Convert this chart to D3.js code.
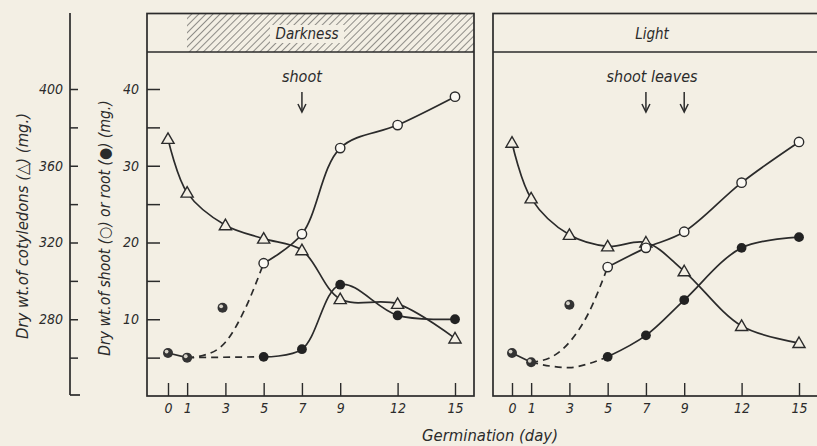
<!DOCTYPE html>
<html>
<head>
<meta charset="utf-8">
<script src="https://cdn.jsdelivr.net/npm/d3@7"></script>
<style>
  body { margin: 0; background: #f3efe4; }
  svg text { font-family: "DejaVu Sans Condensed", "DejaVu Sans", sans-serif; font-style: italic; fill: #2b2b2b; }
</style>
</head>
<body>
<div id="canvas"></div>
<script>
"use strict"

/* data */
let days = [0, 1, 3, 5, 7, 9, 12, 15];
let laterDays = [5, 7, 9, 12, 15];
let seedDays = [0, 1];

// darkness panel
let darkCotyledon = [374, 346, 329, 322, 316, 290.5, 288, 270];
let darkShoot = [17.3, 21.1, 32.3, 35.3, 39.0];
let darkRoot = [5.1, 6.1, 14.5, 10.5, 10.0];
let darkSeed = [5.6, 5.0];
let darkLone = [2.85, 11.5];
let darkShootDash = [[1, 5.0], [2, 5.4], [3, 7.0], [4, 11.2], [5, 17.3]];
let darkRootDash = [[1, 5.0], [5, 5.1]];

// light panel
let lightCotyledon = [372, 343, 324, 318, 320, 305, 276.5, 267.6];
let lightShoot = [16.8, 19.3, 21.4, 27.8, 33.1];
let lightRoot = [5.1, 7.9, 12.5, 19.3, 20.7];
let lightSeed = [5.6, 4.4];
let lightLone = [3.0, 11.9];
let lightShootDash = [[1, 4.4], [2, 5.0], [3, 7.0], [4, 10.8], [5, 16.8]];
let lightRootDash = [[1, 4.4], [2, 3.9], [3, 3.7], [4, 4.2], [5, 5.1]];

let shootTicks = [5, 10, 15, 20, 25, 30, 35, 40];
let cotTicks = [260, 280, 300, 320, 340, 360, 380, 400];

let ink = "#2b2b2b";
let bg = "#f3efe4";

let drawing = d3.select("#canvas")
    .append("svg")
    .attr("width", 817)
    .attr("height", 446);

/* scales */
let y = d3.scaleLinear().domain([0, 40]).range([396, 89]);
let yCot = d3.scaleLinear().domain([240, 400]).range([396, 89]);
let xDark = d3.scaleLinear().domain([0, 15]).range([168, 455]);
let xLight = d3.scaleLinear().domain([0, 15]).range([512, 799]);

/* hatching for the darkness header */
let defs = drawing.append("defs");
let hatch = defs.append("pattern")
    .attr("id", "hatch")
    .attr("patternUnits", "userSpaceOnUse")
    .attr("width", 5)
    .attr("height", 5)
    .attr("patternTransform", "rotate(45)");
hatch.append("line")
    .attr("x1", 0).attr("y1", 0)
    .attr("x2", 0).attr("y2", 5)
    .attr("stroke", "#3a3a3a")
    .attr("stroke-width", 1.1);

/* outer cotyledon axis */
drawing.append("line")
    .attr("x1", 70).attr("y1", 13)
    .attr("x2", 70).attr("y2", 395)
    .attr("stroke", ink).attr("stroke-width", 1.7);
drawing.append("line")
    .attr("x1", 70).attr("y1", 395)
    .attr("x2", 80).attr("y2", 395)
    .attr("stroke", ink).attr("stroke-width", 1.7);

let cotAxis = drawing.append("g")
    .attr("transform", "translate(70,0)")
    .call(d3.axisLeft(yCot).tickValues(cotTicks).tickSize(-8).tickPadding(7)
        .tickFormat(d => d % 40 == 0 ? d : ""));
cotAxis.select(".domain").remove();
cotAxis.selectAll("line").attr("stroke", ink).attr("stroke-width", 1.5);
cotAxis.selectAll("text").attr("font-size", 14).attr("fill", ink)
    .style("font-family", "\"DejaVu Sans Condensed\", sans-serif").style("font-style", "italic");

/* panel frames */
function panelFrame(x0, x1) {
    drawing.append("rect")
        .attr("x", x0).attr("y", 13.5)
        .attr("width", x1 - x0).attr("height", 396 - 13.5)
        .attr("fill", "none")
        .attr("stroke", ink).attr("stroke-width", 1.7);
    drawing.append("line")
        .attr("x1", x0).attr("y1", 52)
        .attr("x2", x1).attr("y2", 52)
        .attr("stroke", ink).attr("stroke-width", 1.5);
}

drawing.append("rect")
    .attr("x", 187).attr("y", 14)
    .attr("width", 287).attr("height", 38)
    .attr("fill", "url(#hatch)");
drawing.append("rect")
    .attr("x", 270).attr("y", 25)
    .attr("width", 74).attr("height", 18)
    .attr("fill", bg);
panelFrame(147, 474);
panelFrame(493, 840);

drawing.append("text")
    .attr("x", 307).attr("y", 39)
    .attr("text-anchor", "middle")
    .attr("font-size", 15)
    .text("Darkness");
drawing.append("text")
    .attr("x", 652).attr("y", 39)
    .attr("text-anchor", "middle")
    .attr("font-size", 15)
    .text("Light");

/* inner shoot/root axis */
let shootAxis = drawing.append("g")
    .attr("transform", "translate(147,0)")
    .call(d3.axisLeft(y).tickValues(shootTicks).tickSize(-13).tickPadding(8)
        .tickFormat(d => d % 10 == 0 ? d : ""));
shootAxis.select(".domain").remove();
shootAxis.selectAll("line").attr("stroke", ink).attr("stroke-width", 1.5);
shootAxis.selectAll("text").attr("font-size", 14).attr("fill", ink)
    .style("font-family", "\"DejaVu Sans Condensed\", sans-serif").style("font-style", "italic");

/* x axes */
function dayAxis(x) {
    let g = drawing.append("g")
        .attr("transform", "translate(0,396)")
        .call(d3.axisBottom(x).tickValues(days).tickSize(-13).tickPadding(7));
    g.select(".domain").remove();
    g.selectAll("line").attr("stroke", ink).attr("stroke-width", 1.4);
    g.selectAll("text").attr("font-size", 14).attr("fill", ink)
        .style("font-family", "\"DejaVu Sans Condensed\", sans-serif").style("font-style", "italic");
}
dayAxis(xDark);
dayAxis(xLight);

/* axis titles */
drawing.append("text")
    .attr("transform", "translate(28,226) rotate(-90)")
    .attr("text-anchor", "middle")
    .attr("font-size", 16.5)
    .text("Dry wt.of cotyledons (\u25B3) (mg.)");
drawing.append("text")
    .attr("transform", "translate(110,228) rotate(-90)")
    .attr("text-anchor", "middle")
    .attr("font-size", 15.5)
    .text("Dry wt.of shoot (\u25CB) or root (\u25CF) (mg.)");
drawing.append("text")
    .attr("x", 490).attr("y", 441)
    .attr("text-anchor", "middle")
    .attr("font-size", 16.5)
    .text("Germination (day)");

/* arrows */
function arrow(x) {
    drawing.append("line")
        .attr("x1", x).attr("y1", 92)
        .attr("x2", x).attr("y2", 111)
        .attr("stroke", ink).attr("stroke-width", 1.5);
    drawing.append("polyline")
        .attr("points", [[x - 4, 104], [x, 112], [x + 4, 104]].join(" "))
        .attr("fill", "none")
        .attr("stroke", ink).attr("stroke-width", 1.5);
}
drawing.append("text")
    .attr("x", xDark(7)).attr("y", 82)
    .attr("text-anchor", "middle")
    .attr("font-size", 16)
    .text("shoot");
arrow(xDark(7));
drawing.append("text")
    .attr("x", 652).attr("y", 82)
    .attr("text-anchor", "middle")
    .attr("font-size", 16)
    .text("shoot leaves");
arrow(xLight(7));
arrow(xLight(9));

/* curves and markers */
function drawPanel(x, cot, shoot, root, seed, lone, shootDash, rootDash) {
    let smooth = d3.line().x(d => x(d[0])).y(d => y(d[1])).curve(d3.curveCatmullRom.alpha(0.5));
    let smoothCot = d3.line().x(d => x(d[0])).y(d => yCot(d[1])).curve(d3.curveCatmullRom.alpha(0.5));
    let mono = d3.line().x(d => x(d[0])).y(d => y(d[1])).curve(d3.curveMonotoneX);

    let cotPts = days.map((d, i) => [d, cot[i]]);
    let shootPts = laterDays.map((d, i) => [d, shoot[i]]);
    let rootPts = laterDays.map((d, i) => [d, root[i]]);
    let seedPts = seedDays.map((d, i) => [d, seed[i]]);

    [cotPts, shootPts, rootPts, seedPts].forEach((pts, k) => {
        drawing.append("path")
            .attr("d", k == 0 ? smoothCot(pts) : smooth(pts))
            .attr("fill", "none")
            .attr("stroke", ink).attr("stroke-width", 1.7);
    });
    [shootDash, rootDash].forEach(pts => {
        drawing.append("path")
            .attr("d", mono(pts))
            .attr("fill", "none")
            .attr("stroke", ink).attr("stroke-width", 1.7)
            .attr("stroke-dasharray", "7,5");
    });

    // triangles
    drawing.selectAll(null)
        .data(cotPts).enter()
        .append("path")
        .attr("d", d3.symbol(d3.symbolTriangle, 64))
        .attr("transform", d => "translate(" + x(d[0]) + "," + (yCot(d[1]) + 1) + ")")
        .attr("fill", bg)
        .attr("stroke", ink).attr("stroke-width", 1.4);

    // open circles for shoot
    drawing.selectAll(null)
        .data(shootPts).enter()
        .append("circle")
        .attr("cx", d => x(d[0])).attr("cy", d => y(d[1]))
        .attr("r", 4.7)
        .attr("fill", "#fbf9f3")
        .attr("stroke", ink).attr("stroke-width", 1.4);

    // filled circles for root
    drawing.selectAll(null)
        .data(rootPts).enter()
        .append("circle")
        .attr("cx", d => x(d[0])).attr("cy", d => y(d[1]))
        .attr("r", 4.9)
        .attr("fill", "#222");

    // mixed seedling points (shoot + root together)
    let mixed = seedPts.concat([lone]);
    drawing.selectAll(null)
        .data(mixed).enter()
        .append("circle")
        .attr("cx", d => x(d[0])).attr("cy", d => y(d[1]))
        .attr("r", 5)
        .attr("fill", "#333");
    drawing.selectAll(null)
        .data(mixed).enter()
        .append("circle")
        .attr("cx", d => x(d[0]) - 1.4).attr("cy", d => y(d[1]) - 1.4)
        .attr("r", 1.9)
        .attr("fill", "#d8d4ca");
}

drawPanel(xDark, darkCotyledon, darkShoot, darkRoot, darkSeed, darkLone, darkShootDash, darkRootDash);
drawPanel(xLight, lightCotyledon, lightShoot, lightRoot, lightSeed, lightLone, lightShootDash, lightRootDash);
</script>
</body>
</html>
